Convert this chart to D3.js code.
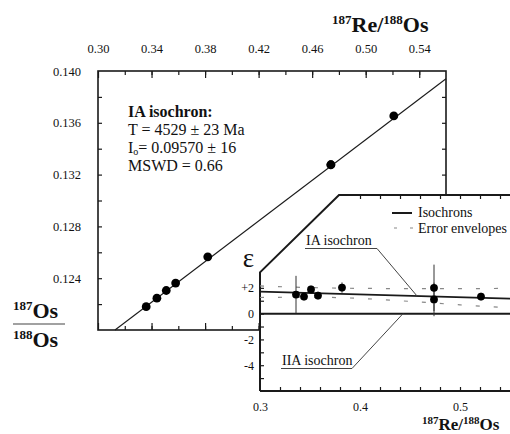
<!DOCTYPE html>
<html><head><meta charset="utf-8">
<script src="https://cdn.jsdelivr.net/npm/d3@7"></script>
<style>
body{margin:0;background:#fff}
svg{display:block}
text{font-family:"Liberation Serif","DejaVu Serif","Times New Roman",serif;fill:#111}
</style>
</head><body><svg id="c" width="510" height="434"></svg>
<script>
// ---- data ----
const reOs      = [0.336, 0.344, 0.351, 0.358, 0.382, 0.474, 0.474, 0.521];
const osOs      = [0.12180, 0.12246, 0.12305, 0.12362, 0.12565, 0.13276, 0.13276, 0.13653];
const epsilon   = [1.48, 1.32, 1.87, 1.40, 2.02, 2.00, 1.10, 1.32];
const epsErr    = [1.45, 0.30, 0.30, 0.30, 0.40, 1.80, 1.30, 0.30];
const iaIsochron = [[0.3127, 0.120], [0.56, 0.1394]];
const iaEps      = [[0.30, 1.71], [0.55, 1.17]];
const iiaEps     = [[0.30, 0], [0.55, 0]];
const envUpper   = [[0.30, 2.15], [0.35, 2.02], [0.40, 1.96], [0.45, 1.94], [0.50, 1.94], [0.55, 1.96]];
const envLower   = [[0.30, 1.25], [0.35, 1.28], [0.40, 1.18], [0.45, 0.95], [0.50, 0.68], [0.55, 0.45]];
const topTicks   = [0.30, 0.34, 0.38, 0.42, 0.46, 0.50, 0.54];
const leftTicks  = [0.124, 0.128, 0.132, 0.136, 0.140];
const insetXTicks = [0.3, 0.4, 0.5];
const insetYTicks = [2, 0, -2, -4];
const statLines  = ["IA isochron:", "T = 4529 \u00b1 23 Ma", "I|o|= 0.09570 \u00b1 16", "MSWD = 0.66"];

const svg = d3.select("#c");
const ink = "#1a1a1a";

// ---- main panel ----
const x = d3.scaleLinear().domain([0.30, 0.56]).range([98, 446]);
const y = d3.scaleLinear().domain([0.120, 0.140]).range([330, 71]);
const main = svg.append("g");

function styleAxis(g, fs) {
  g.select(".domain").remove();
  g.selectAll(".tick line").attr("stroke", ink).attr("stroke-width", 1.2);
  g.selectAll("text").attr("font-family", null)
    .attr("font-size", fs || 12).attr("fill", "#2a2a2a");
}
const rng = (a, b, s) => d3.range(Math.round(a / s), Math.round(b / s) + 1).map(i => +(i * s).toFixed(4));

// top
main.append("g").attr("transform", `translate(0,${y(0.140)})`)
  .call(d3.axisTop(x).tickValues(rng(0.32, 0.54, 0.02)).tickSize(-4).tickFormat(""))
  .call(g => styleAxis(g));
main.append("g").attr("transform", `translate(0,${y(0.140)})`)
  .call(d3.axisTop(x).tickValues(topTicks).tickSize(-7).tickPadding(18).tickFormat(d3.format(".2f")))
  .call(g => styleAxis(g, 12.5));
// bottom
main.append("g").attr("transform", `translate(0,${y(0.120)})`)
  .call(d3.axisBottom(x).tickValues(rng(0.32, 0.54, 0.02)).tickSize(-4).tickFormat(""))
  .call(g => styleAxis(g));
main.append("g").attr("transform", `translate(0,${y(0.120)})`)
  .call(d3.axisBottom(x).tickValues(topTicks).tickSize(-7).tickFormat(""))
  .call(g => styleAxis(g));
// left
main.append("g").attr("transform", `translate(${x(0.30)},0)`)
  .call(d3.axisLeft(y).tickValues(rng(0.122, 0.138, 0.002)).tickSize(-4).tickFormat(""))
  .call(g => styleAxis(g));
main.append("g").attr("transform", `translate(${x(0.30)},0)`)
  .call(d3.axisLeft(y).tickValues(leftTicks).tickSize(0).tickPadding(17).tickFormat(d3.format(".3f")))
  .call(g => styleAxis(g, 12.5));
// right
main.append("g").attr("transform", `translate(${x(0.56)},0)`)
  .call(d3.axisRight(y).tickValues(rng(0.122, 0.138, 0.002)).tickSize(-4).tickFormat(""))
  .call(g => styleAxis(g));

main.append("rect")
  .attr("x", x(0.30)).attr("y", y(0.140))
  .attr("width", x(0.56) - x(0.30)).attr("height", y(0.120) - y(0.140))
  .attr("fill", "none").attr("stroke", ink).attr("stroke-width", 1.6);

main.append("path").datum(iaIsochron)
  .attr("d", d3.line().x(d => x(d[0])).y(d => y(d[1])))
  .attr("fill", "none").attr("stroke", ink).attr("stroke-width", 1.1);

main.selectAll("circle.pt").data(reOs).join("circle").attr("class", "pt")
  .attr("cx", d => x(d)).attr("cy", (d, i) => y(osOs[i])).attr("r", 4.4).attr("fill", "#000");

// stats block
statLines.forEach((s, i) => {
  const t = main.append("text").attr("x", 128).attr("y", 117 + i * 18).attr("font-size", 16);
  if (i === 0) t.attr("font-weight", "bold");
  const parts = s.split("|");
  t.append("tspan").text(parts[0]);
  if (parts.length > 1) {
    t.append("tspan").attr("font-size", 10).attr("dy", 2).text(parts[1]);
    t.append("tspan").attr("dy", -2).text(parts[2]);
  }
});

// top title
const tt = svg.append("text").attr("x", 332).attr("y", 32).attr("font-size", 22).attr("font-weight", "bold");
tt.append("tspan").attr("font-size", 13).attr("dy", -8).text("187");
tt.append("tspan").attr("dy", 8).text("Re/");
tt.append("tspan").attr("font-size", 13).attr("dy", -8).text("188");
tt.append("tspan").attr("dy", 8).text("Os");

// left fraction title
const ln = svg.append("text").attr("x", 13).attr("y", 318).attr("font-size", 22).attr("font-weight", "bold");
ln.append("tspan").attr("font-size", 13).attr("dy", -8).text("187");
ln.append("tspan").attr("dy", 8).text("Os");
svg.append("line").attr("x1", 13).attr("x2", 65).attr("y1", 324).attr("y2", 324)
  .attr("stroke", "#444").attr("stroke-width", 1.2);
const ld = svg.append("text").attr("x", 13).attr("y", 347).attr("font-size", 22).attr("font-weight", "bold");
ld.append("tspan").attr("font-size", 13).attr("dy", -8).text("188");
ld.append("tspan").attr("dy", 8).text("Os");

// ---- inset ----
const xi = d3.scaleLinear().domain([0.30, 0.55]).range([260, 510]);
const yi = d3.scaleLinear().domain([-6, 9.2]).range([391, 195]);
const ins = svg.append("g");

const outline = [[xi(0.30), yi(-6)], [xi(0.30), yi(3.2)], [xi(0.379), yi(9.2)], [xi(0.55) + 15, yi(9.2)], [xi(0.55) + 15, yi(-6)]];
ins.append("path").attr("d", "M" + outline.map(p => p.join(",")).join("L") + "Z").attr("fill", "#fff");

// inset ticks
ins.append("g").attr("transform", `translate(0,${yi(-6)})`)
  .call(d3.axisBottom(xi).tickValues(rng(0.32, 0.54, 0.02)).tickSize(-4).tickFormat(""))
  .call(g => styleAxis(g));
ins.append("g").attr("transform", `translate(0,${yi(-6)})`)
  .call(d3.axisBottom(xi).tickValues(insetXTicks).tickSize(0).tickPadding(11).tickFormat(d3.format(".1f")))
  .call(g => styleAxis(g, 12));
ins.append("g").attr("transform", `translate(0,${yi(9.2)})`)
  .call(d3.axisTop(xi).tickValues(rng(0.40, 0.54, 0.02)).tickSize(-4).tickFormat(""))
  .call(g => styleAxis(g));
ins.append("g").attr("transform", `translate(${xi(0.30)},0)`)
  .call(d3.axisLeft(yi).tickValues(d3.range(-5, 3)).tickSize(-4).tickFormat(""))
  .call(g => styleAxis(g));
ins.append("g").attr("transform", `translate(${xi(0.30)},0)`)
  .call(d3.axisLeft(yi).tickValues(insetYTicks).tickSize(0).tickPadding(6)
    .tickFormat(d => d > 0 ? "+" + d : (d < 0 ? "-" + (-d) : "0")))
  .call(g => styleAxis(g, 12));

ins.append("path").attr("d", "M" + outline.slice(0, 4).map(p => p.join(",")).join("L"))
  .attr("fill", "none").attr("stroke", ink).attr("stroke-width", 2);
ins.append("line").attr("x1", outline[0][0]).attr("y1", outline[0][1]).attr("x2", outline[4][0]).attr("y2", outline[4][1])
  .attr("stroke", ink).attr("stroke-width", 2);

const li = d3.line().x(d => xi(d[0])).y(d => yi(d[1]));
[envUpper, envLower].forEach(env => {
  ins.append("path").datum(env).attr("d", li.curve(d3.curveMonotoneX))
    .attr("fill", "none").attr("stroke", "#888").attr("stroke-width", 1.2).attr("stroke-dasharray", "4,14");
});
li.curve(d3.curveLinear);
ins.append("path").datum(iaEps).attr("d", li).attr("fill", "none").attr("stroke", ink).attr("stroke-width", 1.7);
ins.append("path").datum(iiaEps).attr("d", li).attr("fill", "none").attr("stroke", ink).attr("stroke-width", 2);

ins.selectAll("line.err").data(reOs).join("line").attr("class", "err")
  .attr("x1", d => xi(d)).attr("x2", d => xi(d))
  .attr("y1", (d, i) => yi(epsilon[i] - epsErr[i])).attr("y2", (d, i) => yi(epsilon[i] + epsErr[i]))
  .attr("stroke", "#333").attr("stroke-width", 1);
ins.selectAll("circle.ip").data(reOs).join("circle").attr("class", "ip")
  .attr("cx", d => xi(d)).attr("cy", (d, i) => yi(epsilon[i])).attr("r", 3.9).attr("fill", "#000");

// labels with leaders
const iaAt = 0.457, iaE = iaEps[0][1] + (iaEps[1][1] - iaEps[0][1]) * (iaAt - 0.30) / 0.25;
ins.append("text").attr("x", 306).attr("y", 245).attr("font-size", 14).text("IA isochron");
ins.append("path").attr("d", `M305,248.5L377,248.5L${xi(iaAt)},${yi(iaE)}`)
  .attr("fill", "none").attr("stroke", "#444").attr("stroke-width", 1);
ins.append("text").attr("x", 282).attr("y", 365).attr("font-size", 14).text("IIA isochron");
ins.append("path").attr("d", `M281,368.5L352,368.5L${xi(0.443)},${yi(0)}`)
  .attr("fill", "none").attr("stroke", "#444").attr("stroke-width", 1);

// legend
ins.append("line").attr("x1", 392).attr("x2", 412).attr("y1", 213).attr("y2", 213).attr("stroke", ink).attr("stroke-width", 2);
ins.append("text").attr("x", 418).attr("y", 217).attr("font-size", 14).text("Isochrons");
ins.append("line").attr("x1", 394).attr("x2", 414).attr("y1", 228).attr("y2", 228)
  .attr("stroke", "#888").attr("stroke-width", 1.2).attr("stroke-dasharray", "3,13");
ins.append("text").attr("x", 418).attr("y", 233).attr("font-size", 14).text("Error envelopes");

// epsilon label
svg.append("text").attr("x", 254).attr("y", 267).attr("text-anchor", "end").attr("font-size", 27).text("\u03b5");

// inset x title
const it = svg.append("text").attr("x", 422).attr("y", 430).attr("font-size", 17).attr("font-weight", "bold");
it.append("tspan").attr("font-size", 11).attr("dy", -6).text("187");
it.append("tspan").attr("dy", 6).text("Re/");
it.append("tspan").attr("font-size", 11).attr("dy", -6).text("188");
it.append("tspan").attr("dy", 6).text("Os");
</script>
</body></html>
